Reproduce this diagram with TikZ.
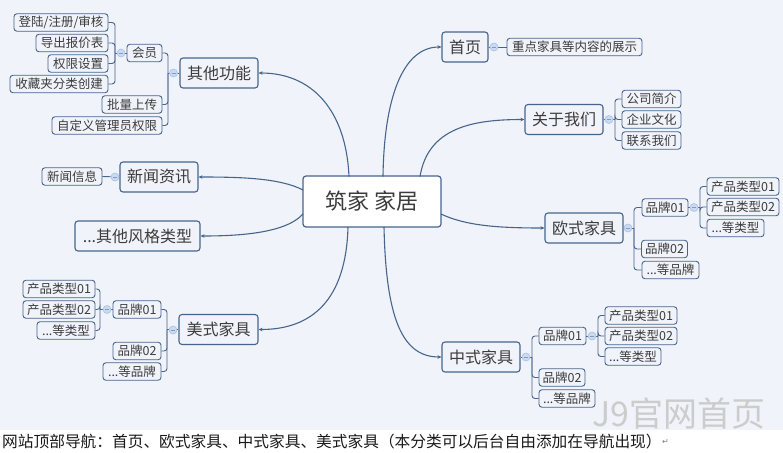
\documentclass[tikz,border=0pt]{standalone}
\usepackage{fontspec}
\setmainfont{Noto Sans CJK SC}
\newfontfamily\djv{DejaVu Sans}
\usetikzlibrary{arrows.meta}
\definecolor{bg}{HTML}{F0F3F9}
\definecolor{ln}{HTML}{46658D}
\definecolor{tx}{HTML}{3C3C3C}
\definecolor{btn}{HTML}{C9DAF1}
\definecolor{btnd}{HTML}{A7C0E2}
\begin{document}
\begin{tikzpicture}[x=1pt,y=-1pt,
 base/.style={draw=ln, rounded corners=3pt, text=tx, inner sep=0pt, fill=bg},
 root/.style={base, fill=white, line width=1.2pt, minimum height=51pt, font=\fontsize{22}{24}\selectfont},
 lvone/.style={base, line width=1.1pt, minimum height=30pt, font=\fontsize{16}{18}\selectfont},
 lvtwo/.style={base, line width=0.9pt, minimum height=17.5pt, font=\fontsize{12.5}{14}\selectfont},
 btnnode/.style={circle, draw=btnd, fill=btn, minimum size=8pt, inner sep=0pt, line width=0.6pt,
   path picture={\draw[btnd!60!ln, line width=0.6pt] ([xshift=-2pt]path picture bounding box.center) -- ([xshift=2pt]path picture bounding box.center);}},
 conn/.style={draw=ln, line width=1.1pt, -{Stealth[length=4pt,width=3.5pt]}},
 elbow/.style={draw=ln, line width=0.9pt, rounded corners=3pt},
]
\useasboundingbox (0,0) rectangle (783,452);
\fill[bg] (0,0) rectangle (783,430);

% central and level one
\node[root, minimum width=138pt] (root) at (372,201.5) {筑家 家居};
\node[lvone, minimum width=78pt] (qt) at (219,73) {其他功能};
\node[lvone, minimum width=46pt] (sy) at (465,47) {首页};
\node[lvone, minimum width=78pt] (gy) at (564,119.5) {关于我们};
\node[lvone, minimum width=78pt] (xw) at (159,177) {新闻资讯};
\node[lvone, minimum width=125pt] (qf) at (137.5,236) {...其他风格类型};
\node[lvone, minimum width=78pt] (os) at (584,228) {欧式家具};
\node[lvone, minimum width=78pt] (zs) at (481,357) {中式家具};
\node[lvone, minimum width=79pt] (ms) at (218.5,329.5) {美式家具};

% level two
\node[lvtwo, minimum width=135pt] (sy1) at (574.5,47) {重点家具等内容的展示};
\node[lvtwo, minimum width=59pt] (gy1) at (651.5,99) {公司简介};
\node[lvtwo, minimum width=59pt] (gy2) at (651.5,119.5) {企业文化};
\node[lvtwo, minimum width=59pt] (gy3) at (651.5,140.5) {联系我们};
\node[lvtwo, minimum width=60pt] (xw1) at (72,176.5) {新闻信息};
\node[lvtwo, minimum width=35pt] (hy) at (144.5,53) {会员};
\node[lvtwo, minimum width=60pt] (pl) at (132,104.5) {批量上传};
\node[lvtwo, minimum width=110pt] (zd) at (107,125.5) {自定义管理员权限};
\node[lvtwo, minimum width=94pt] (hy1) at (61,22.5) {登陆/注册/审核};
\node[lvtwo, minimum width=72pt] (hy2) at (72,43) {导出报价表};
\node[lvtwo, minimum width=60pt] (hy3) at (78,63.5) {权限设置};
\node[lvtwo, minimum width=98pt] (hy4) at (59,84) {收藏夹分类创建};

\node[lvtwo, minimum width=46pt] (ob1) at (665,207.5) {品牌01};
\node[lvtwo, minimum width=46pt] (ob2) at (664.5,249) {品牌02};
\node[lvtwo, minimum width=57pt] (ob3) at (670.5,270) {...等品牌};
\node[lvtwo, minimum width=72pt] (ot1) at (743,186.5) {产品类型01};
\node[lvtwo, minimum width=72pt] (ot2) at (743,207) {产品类型02};
\node[lvtwo, minimum width=57pt] (ot3) at (735.5,228) {...等类型};

\node[lvtwo, minimum width=47pt] (cb1) at (562.5,336) {品牌01};
\node[lvtwo, minimum width=46pt] (cb2) at (562,377.5) {品牌02};
\node[lvtwo, minimum width=56pt] (cb3) at (567,398.5) {...等品牌};
\node[lvtwo, minimum width=72pt] (ct1) at (641,315.5) {产品类型01};
\node[lvtwo, minimum width=72pt] (ct2) at (641,336) {产品类型02};
\node[lvtwo, minimum width=56pt] (ct3) at (633,356.5) {...等类型};

\node[lvtwo, minimum width=48pt] (mb1) at (137,309.5) {品牌01};
\node[lvtwo, minimum width=48pt] (mb2) at (137,351) {品牌02};
\node[lvtwo, minimum width=58pt] (mb3) at (132,371.5) {...等品牌};
\node[lvtwo, minimum width=72pt] (mt1) at (59,289) {产品类型01};
\node[lvtwo, minimum width=72pt] (mt2) at (59,309.5) {产品类型02};
\node[lvtwo, minimum width=58pt] (mt3) at (66,330.5) {...等类型};

% main connectors
\draw[conn] (349,176.5) .. controls (346,110) and (312,73) .. (qt.east);
\draw[conn] (383,176.5) .. controls (384,100) and (402,47) .. (sy.west);
\draw[conn] (420,176.5) .. controls (428,128) and (472,119.5) .. (gy.west);
\draw[conn] (441,214) .. controls (466,226) and (500,228) .. (os.west);
\draw[conn] (384,227) .. controls (386,318) and (402,357) .. (zs.west);
\draw[conn] (348,227) .. controls (346,300) and (312,329.5) .. (ms.east);
\draw[conn] (303,190) .. controls (280,178) and (240,177) .. (xw.east);
\draw[conn] (303,214) .. controls (286,233) and (240,236) .. (qf.east);

% junctions
\coordinate (jqt) at (168,73);
\coordinate (jhy) at (115,53);
\coordinate (jgy) at (615,119.5);
\coordinate (jos) at (634,228);
\coordinate (job) at (700,207.5);
\coordinate (jzs) at (532,357);
\coordinate (jcb) at (598,336);
\coordinate (jms) at (167,329.5);
\coordinate (jmb) at (100,309.5);

% elbow connectors
\draw[elbow] (qt.west) -- (jqt);
\foreach \c in {hy,pl,zd} \draw[elbow] (jqt) |- (\c.east);
\draw[elbow] (hy.west) -- (jhy);
\foreach \c in {hy1,hy2,hy3,hy4} \draw[elbow] (jhy) |- (\c.east);
\draw[elbow] (sy.east) -- (sy1.west);
\draw[elbow] (gy.east) -- (jgy);
\foreach \c in {gy1,gy2,gy3} \draw[elbow] (jgy) |- (\c.west);
\draw[elbow] (xw.west) -- (xw1.east);
\draw[elbow] (os.east) -- (jos);
\foreach \c in {ob1,ob2,ob3} \draw[elbow] (jos) |- (\c.west);
\draw[elbow] (ob1.east) -- (job);
\foreach \c in {ot1,ot2,ot3} \draw[elbow] (job) |- (\c.west);
\draw[elbow] (zs.east) -- (jzs);
\foreach \c in {cb1,cb2,cb3} \draw[elbow] (jzs) |- (\c.west);
\draw[elbow] (cb1.east) -- (jcb);
\foreach \c in {ct1,ct2,ct3} \draw[elbow] (jcb) |- (\c.west);
\draw[elbow] (ms.west) -- (jms);
\foreach \c in {mb1,mb2,mb3} \draw[elbow] (jms) |- (\c.east);
\draw[elbow] (mb1.west) -- (jmb);
\foreach \c in {mt1,mt2,mt3} \draw[elbow] (jmb) |- (\c.east);

% collapse buttons
\node[btnnode] (bqt) at (173.5,73) {};
\node[btnnode] (bhy) at (121,53) {};
\node[btnnode] (bsy) at (494,47) {};
\node[btnnode] (bgy) at (609,119.5) {};
\node[btnnode] (bxw) at (115,177) {};
\node[btnnode] (bos) at (628,228) {};
\node[btnnode] (bob) at (694,207.5) {};
\node[btnnode] (bzs) at (526,357) {};
\node[btnnode] (bcb) at (592,336) {};
\node[btnnode] (bms) at (173,330) {};
\node[btnnode] (bmb) at (107,309.5) {};

% caption and watermark
\node[anchor=west, inner sep=0pt, text=gray!40, font=\fontsize{34}{34}\selectfont] (wm) at (592,414) {J9官网首页};
\node[anchor=west, inner sep=0pt, text=black!90, font=\fontsize{15.7}{17}\selectfont] (cap) at (2,442) {网站顶部导航：首页、欧式家具、中式家具、美式家具（本分类可以后台自由添加在导航出现）};
\node[anchor=west, inner sep=0pt, text=gray, font=\djv\fontsize{8}{9}\selectfont] (ret) at (cap.east) {↵};
\end{tikzpicture}
\end{document}
